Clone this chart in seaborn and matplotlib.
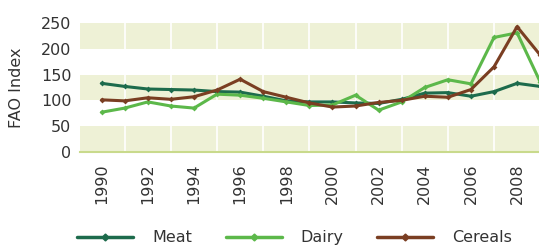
import matplotlib
matplotlib.use("Agg")
import matplotlib.pyplot as plt
import seaborn as sns
import pandas as pd
from matplotlib.lines import Line2D

years = list(range(1990, 2010))
meat = [133, 127, 122, 121, 120, 117, 116, 108, 99, 97, 97, 95, 94, 102, 114, 115, 108, 117, 133, 127]
dairy = [77, 85, 97, 89, 85, 112, 110, 104, 97, 90, 91, 110, 81, 97, 125, 140, 132, 222, 231, 136]
cereals = [101, 99, 105, 102, 107, 120, 141, 117, 106, 95, 87, 89, 96, 100, 108, 106, 121, 165, 243, 188]
series_names = ["Meat", "Dairy", "Cereals"]
xticks = list(range(1990, 2009, 2))
yticks = [0, 50, 100, 150, 200, 250]

colors = {"Meat": "#1d6b4c", "Dairy": "#5cb84a", "Cereals": "#7a3e22"}

df = pd.DataFrame({
    "Year": years * 3,
    "Index": meat + dairy + cereals,
    "Series": [s for s in series_names for _ in years],
})

sns.set_theme(style="white")
plt.rcParams["font.family"] = ["DejaVu Sans"]

fig = plt.figure(figsize=(5.39, 2.45), dpi=100)
ax = fig.add_axes([0.148, 0.38, 0.852, 0.526])

for lo, hi in [(0, 50), (100, 150), (200, 250)]:
    ax.axhspan(lo, hi, color="#eef1d6", zorder=0, lw=0)
for yr in range(1991, 2010, 2):
    ax.axvline(yr, color="white", lw=1.2, zorder=0.5)

sns.lineplot(data=df, x="Year", y="Index", hue="Series", hue_order=series_names,
             palette=colors, ax=ax, lw=2.2, marker="D", markersize=3,
             markeredgewidth=0, legend=False, zorder=3)

fs = 11.5
ax.set_xlim(1989.05, 2008.95)
ax.set_ylim(0, 250)
ax.set_xticks(xticks)
ax.set_xticklabels([str(x) for x in xticks], rotation=90, fontsize=fs, color="#333333")
ax.set_yticks(yticks)
ax.set_yticklabels([str(y) for y in yticks], fontsize=fs, color="#333333")
ax.tick_params(axis="y", length=0, pad=6)
ax.tick_params(axis="x", length=0, pad=8)
ax.set_xlabel("")
ax.set_ylabel("FAO Index", fontsize=fs, color="#333333", labelpad=12)
for s in ["top", "right", "left"]:
    ax.spines[s].set_visible(False)
ax.spines["bottom"].set_color("#c9da8c")
ax.spines["bottom"].set_linewidth(1.5)

handles = [Line2D([0], [0], color=colors[s], lw=2.5, marker="D", markersize=3.5,
                  markevery=[0, -1]) for s in series_names]
fig.legend(handles, series_names, loc="center", bbox_to_anchor=(0.547, 0.03),
           ncol=3, frameon=False, fontsize=fs, handlelength=3.5, columnspacing=2.1,
           handletextpad=1.2, labelcolor="#333333")

fig.savefig("out.png", dpi=100)
